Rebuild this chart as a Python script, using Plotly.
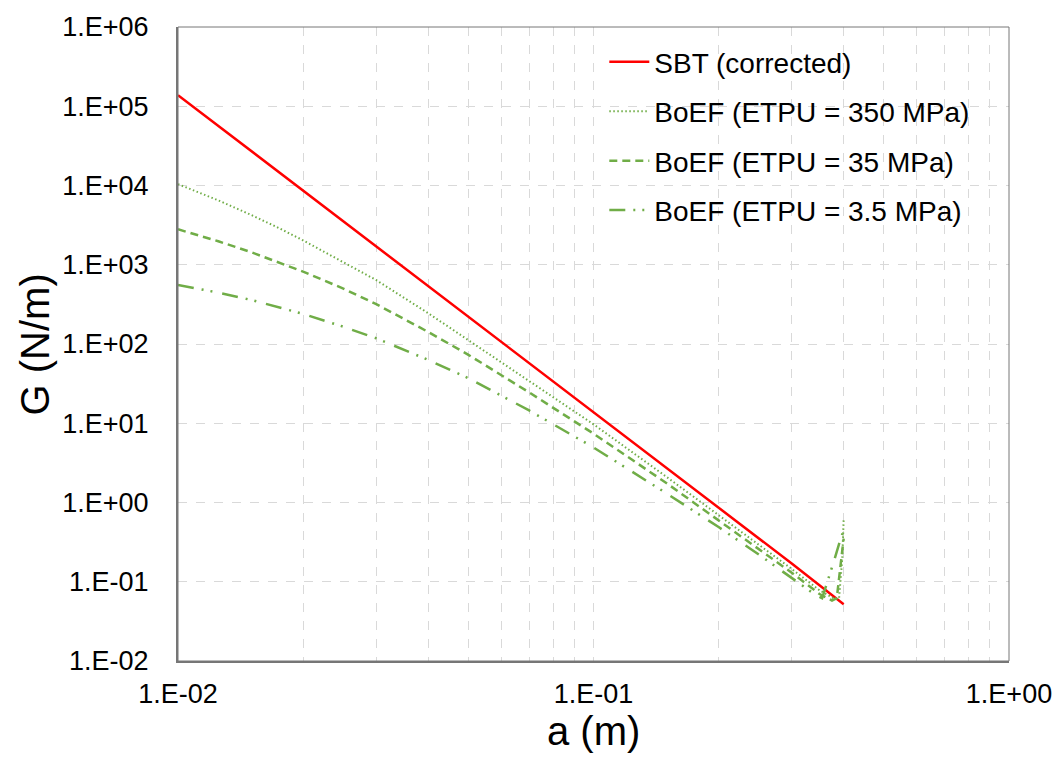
import plotly.graph_objects as go

# ---- data ----
a_sbt = [0.01, 0.02, 0.05, 0.1, 0.2, 0.3, 0.4]
g_sbt = [1.38e5, 8.6e3, 221, 13.8, 0.86, 0.17, 0.052]

a_350 = [0.01, 0.0125, 0.015, 0.0175, 0.02, 0.025, 0.03, 0.04, 0.05, 0.07, 0.1, 0.15, 0.2, 0.25, 0.3,
         0.35, 0.38, 0.39, 0.397, 0.4]
g_350 = [1.04e4, 6.5e3, 4.25e3, 2.9e3, 2.03e3, 1.08e3, 640, 245, 112, 34.5, 9.7, 2.1, 0.7, 0.295, 0.145,
         0.078, 0.061, 0.062, 0.2, 0.62]

a_35 = [0.01, 0.0125, 0.015, 0.0175, 0.02, 0.025, 0.03, 0.04, 0.05, 0.07, 0.1, 0.15, 0.2, 0.25, 0.3,
        0.35, 0.375, 0.385, 0.395, 0.4]
g_35 = [2.8e3, 1.98e3, 1.44e3, 1.07e3, 820, 500, 318, 142, 73, 24.5, 7.4, 1.75, 0.6, 0.26, 0.13,
        0.07, 0.058, 0.062, 0.2, 0.35]

a_3p5 = [0.01, 0.0125, 0.015, 0.0175, 0.02, 0.025, 0.03, 0.04, 0.05, 0.07, 0.1, 0.15, 0.2, 0.25, 0.3,
         0.34, 0.355, 0.37, 0.38, 0.39, 0.4]
g_3p5 = [556, 445, 360, 292, 240, 165, 118, 63, 37, 14.5, 4.95, 1.3, 0.49, 0.22, 0.112,
         0.07, 0.062, 0.12, 0.19, 0.3, 0.45]

x_tickvals = [m * 10 ** e for e in (-2, -1) for m in range(1, 10)] + [1.0]
x_ticktext = ["1.E-02"] + [""] * 8 + ["1.E-01"] + [""] * 8 + ["1.E+00"]
y_tickvals = [10.0 ** e for e in range(-2, 7)]
y_ticktext = ["1.E-02", "1.E-01", "1.E+00", "1.E+01", "1.E+02", "1.E+03", "1.E+04", "1.E+05", "1.E+06"]

GREEN = "#70AD47"
FONT = "Liberation Sans, Arial, sans-serif"

fig = go.Figure()
fig.add_trace(go.Scatter(x=a_sbt, y=g_sbt, mode="lines", name="SBT (corrected)",
                         line=dict(color="#FF0000", width=2.5), legendgroup="1"))
fig.add_trace(go.Scatter(x=a_350, y=g_350, mode="lines", name="BoEF (ETPU = 350 MPa)",
                         line=dict(color=GREEN, width=2, dash="1.5px,2.5px"), legendgroup="2"))
fig.add_trace(go.Scatter(x=a_35, y=g_35, mode="lines", name="BoEF (ETPU = 35 MPa)",
                         line=dict(color=GREEN, width=2.5, dash="8px,5px"), legendgroup="3"))
fig.add_trace(go.Scatter(x=a_3p5, y=g_3p5, mode="lines", name="BoEF (ETPU = 3.5 MPa)",
                         line=dict(color=GREEN, width=2.5, dash="16px,8px,2px,7px,2px,10px"), legendgroup="4"))

grid = dict(showgrid=True, gridcolor="#D9D9D9", griddash="dash", gridwidth=1, zeroline=False,
            showline=True, linecolor="#767676", linewidth=2, ticks="",
            tickfont=dict(family=FONT, size=27, color="#000000"))

fig.update_xaxes(type="log", range=[-2, 0], tickmode="array", tickvals=x_tickvals, ticktext=x_ticktext,
                 ticklabelstandoff=8, **grid)
fig.update_yaxes(type="log", range=[-2, 6], tickmode="array", tickvals=y_tickvals, ticktext=y_ticktext,
                 ticklabelstandoff=22, **grid)

fig.add_shape(type="rect", xref="paper", yref="paper", x0=0, y0=0, x1=1, y1=1,
              line=dict(color="#767676", width=1), layer="above")

fig.add_annotation(text="a (m)", xref="paper", yref="paper", x=0.5, y=-0.1107,
                   xanchor="center", yanchor="middle", showarrow=False,
                   font=dict(family=FONT, size=40, color="#000000"))
fig.add_annotation(text="G (N/m)", xref="paper", yref="paper", x=-0.1715, y=0.5, textangle=-90,
                   xanchor="center", yanchor="middle", showarrow=False,
                   font=dict(family=FONT, size=40, color="#000000"))

fig.update_layout(
    width=1064, height=769,
    margin=dict(l=178, r=52, t=20, b=108),
    paper_bgcolor="white", plot_bgcolor="white",
    font=dict(family=FONT, color="#000000"),
    legend=dict(x=0.513, y=0.984, xanchor="left", yanchor="top", bgcolor="rgba(0,0,0,0)",
                font=dict(family=FONT, size=28, color="#000000"), tracegroupgap=10,
                itemwidth=40),
)

fig.write_html("out.html")
